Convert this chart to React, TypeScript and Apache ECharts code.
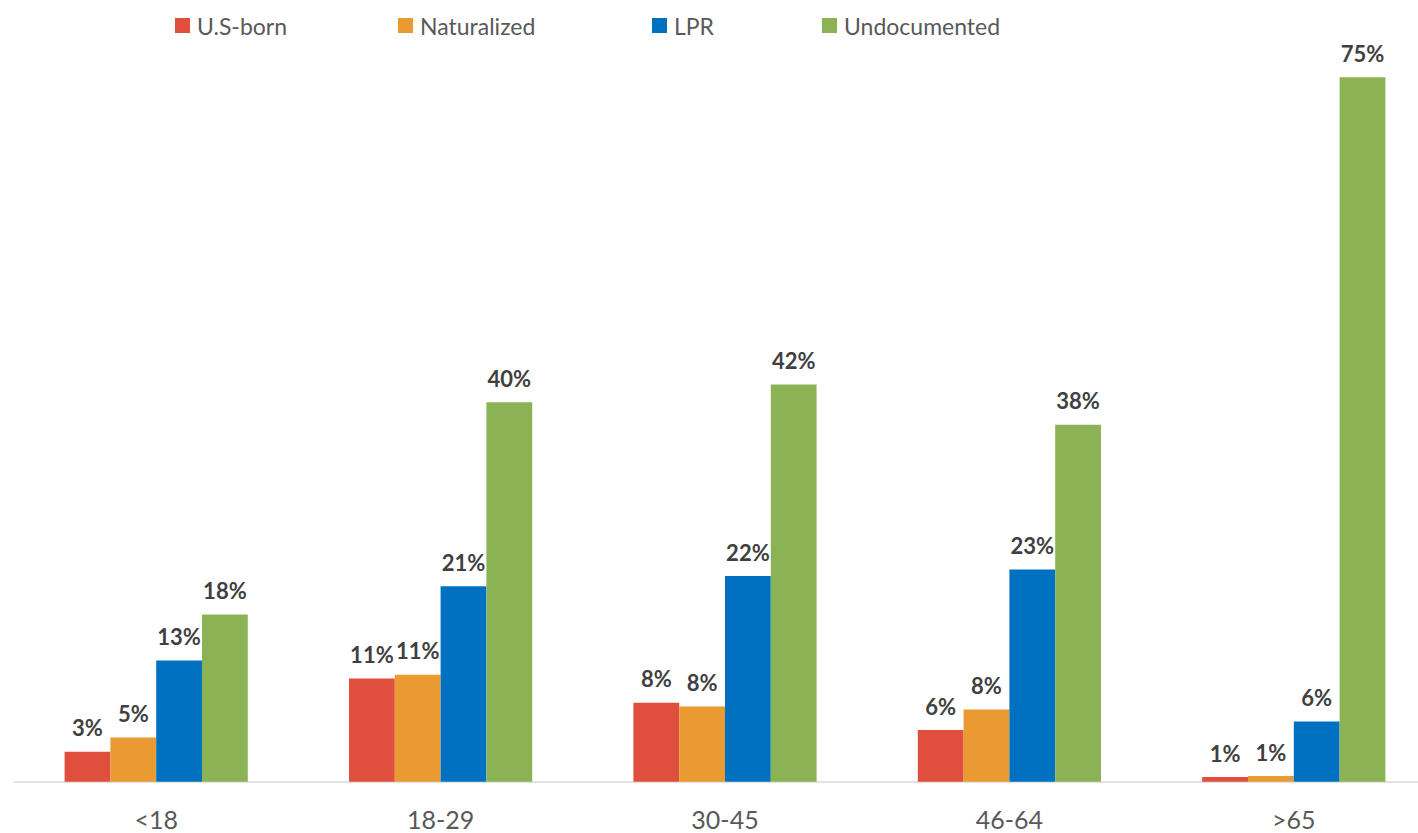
import React, { useEffect, useRef } from "react";
import * as echarts from "echarts";

const categories = ["<18", "18-29", "30-45", "46-64", ">65"];
const seriesNames = ["U.S-born", "Naturalized", "LPR", "Undocumented"];
const usBorn = [3.2, 11.0, 8.4, 5.5, 0.5];
const naturalized = [4.7, 11.4, 8.0, 7.7, 0.6];
const lpr = [12.9, 20.8, 21.9, 22.6, 6.4];
const undocumented = [17.8, 40.4, 42.3, 38.0, 75.0];
const colors = ["#E04E3D", "#EA9A33", "#0070C0", "#8BB356"];
const legendLefts = [175, 398, 652, 822];

const FONT = "Lato, 'Open Sans', sans-serif";

export default function App() {
  const ref = useRef<HTMLDivElement>(null);
  useEffect(() => {
    if (!ref.current) return;
    const chart = echarts.init(ref.current, null, { renderer: "svg" });
    const dataSets = [usBorn, naturalized, lpr, undocumented];
    chart.setOption({
      animation: false,
      color: colors,
      legend: seriesNames.map((name, i) => ({
        data: [name],
        left: legendLefts[i],
        top: 14,
        padding: 0,
        icon: "rect",
        itemWidth: 15,
        itemHeight: 15,
        textStyle: { fontFamily: FONT, fontSize: 23, color: "#595959", padding: [0, 0, 0, 2] },
      })),
      grid: { left: 14, right: 0, top: 30.3, bottom: 51.3, containLabel: false },
      xAxis: {
        type: "category",
        data: categories,
        axisLine: { show: true, lineStyle: { color: "#D9D9D9", width: 1.5 } },
        axisTick: { show: false },
        axisLabel: { fontFamily: FONT, fontSize: 25, color: "#595959", margin: 25 },
      },
      yAxis: {
        type: "value",
        min: 0,
        max: 80,
        show: false,
        splitLine: { show: false },
      },
      series: seriesNames.map((name, i) => ({
        name,
        type: "bar",
        data: dataSets[i],
        barWidth: 45.8,
        barGap: "0%",
        itemStyle: { color: colors[i] },
        label: {
          show: true,
          position: "top",
          distance: 13,
          fontFamily: FONT,
          fontWeight: "bold",
          fontSize: 22,
          color: "#404040",
          formatter: (p: any) => Math.round(p.value) + "%",
        },
      })),
    });
    return () => chart.dispose();
  }, []);
  return (
    <div
      style={{ position: "fixed", left: 0, top: 0, width: 1418, height: 833, overflow: "hidden", background: "#fff" }}
    >
      <div ref={ref} style={{ position: "absolute", left: 0, top: 0, width: 1436, height: 833 }} />
    </div>
  );
}
